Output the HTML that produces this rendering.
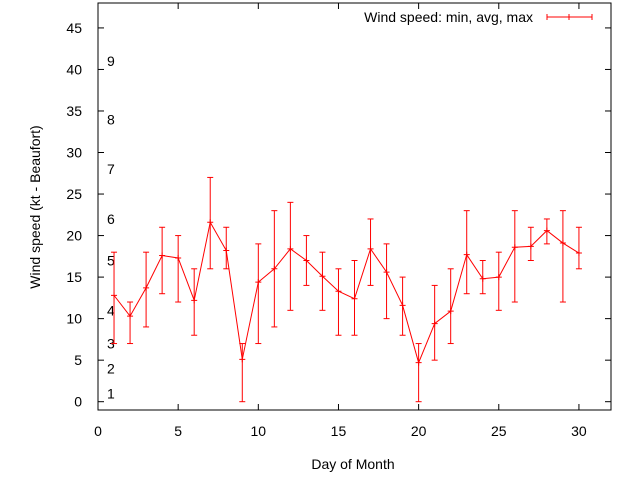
<!DOCTYPE html>
<html><head><meta charset="utf-8"><style>
body{margin:0;background:#fff}
svg text{font-family:"Liberation Sans",sans-serif;font-size:14px;fill:#000}
</style></head><body>
<svg id="c" width="640" height="480"></svg>
<script>
const days=[1,2,3,4,5,6,7,8,9,10,11,12,13,14,15,16,17,18,19,20,21,22,23,24,25,26,27,28,29,30];
const avgSpeed=[12.8,10.3,13.7,17.6,17.3,12.2,21.6,18.2,5.1,14.4,16,18.4,17,15.1,13.3,12.4,18.4,15.6,11.6,4.7,9.4,10.9,17.7,14.8,15,18.6,18.7,20.6,19.1,17.9];
const minSpeed=[7,7,9,13,12,8,16,16,0,7,9,11,14,11,8,8,14,10,8,0,5,7,13,13,11,12,17,19,12,16];
const maxSpeed=[18,12,18,21,20,16,27,21,7,19,23,24,20,18,16,17,22,19,15,7,14,16,23,17,18,23,21,22,23,21];
const xTicks=[0,5,10,15,20,25,30];
const yTicks=[0,5,10,15,20,25,30,35,40,45];
const beaufortKt=[1,4,7,11,17,22,28,34,41];
const beaufortLabels=["1","2","3","4","5","6","7","8","9"];

const L=98,R=611,T=3,B=410,xMin=0,xMax=32,yMin=-1,yMax=48;
const X=v=>L+(v-xMin)/(xMax-xMin)*(R-L);
const Y=v=>B-(v-yMin)/(yMax-yMin)*(B-T);
const svg=document.getElementById('c');
const NS='http://www.w3.org/2000/svg';
function mk(tag,attrs,parent){const e=document.createElementNS(NS,tag);for(const k in attrs)e.setAttribute(k,attrs[k]);(parent||svg).appendChild(e);return e;}

const frame=mk('rect',{x:L,y:T,width:R-L,height:B-T,fill:'none',stroke:'#000','stroke-width':1});



xTicks.forEach(v=>{
  const x=X(v);
  const t1=mk('line',{x1:x,y1:B,x2:x,y2:B-6,stroke:'#000'});
  
  
  const t2=mk('line',{x1:x,y1:T,x2:x,y2:T+6,stroke:'#000'});
  
  
  const lb=mk('text',{x:x,y:B+26,'text-anchor':'middle'});lb.textContent=v;
  
  
});
yTicks.forEach(v=>{
  const y=Y(v);
  const t1=mk('line',{x1:L,y1:y,x2:L+6,y2:y,stroke:'#000'});
  
  
  const t2=mk('line',{x1:R,y1:y,x2:R-6,y2:y,stroke:'#000'});
  
  
  const lb=mk('text',{x:L-16,y:y+5,'text-anchor':'end'});lb.textContent=v;
  
  
});
beaufortKt.forEach((v,i)=>{
  const lb=mk('text',{x:107,y:Y(v)+5});lb.textContent=beaufortLabels[i];
  
  
});

const xl=mk('text',{x:353,y:469,'text-anchor':'middle'});xl.textContent='Day of Month';


const yl=mk('text',{x:0,y:0,'text-anchor':'middle',transform:'translate(40,207) rotate(-90)'});yl.textContent='Wind speed (kt - Beaufort)';



const red='#f00';
days.forEach((d,i)=>{
  const x=X(d),y1=Y(minSpeed[i]),y2=Y(maxSpeed[i]);
  const g=mk('g',{stroke:red,'stroke-width':1});
  
  
  mk('line',{x1:x,y1:y1,x2:x,y2:y2},g);
  mk('line',{x1:x-3,y1:y1,x2:x+3,y2:y1},g);
  mk('line',{x1:x-3,y1:y2,x2:x+3,y2:y2},g);
});
const pl=mk('polyline',{points:days.map((d,i)=>X(d)+','+Y(avgSpeed[i])).join(' '),fill:'none',stroke:red,'stroke-width':1});


days.forEach((d,i)=>{
  const x=X(d),y=Y(avgSpeed[i]);
  const m=mk('path',{d:`M${x-3},${y}H${x+3}M${x},${y-3}V${y+3}`,stroke:red,'stroke-width':1});
  
  
});

const lg=mk('g',{});


const lt=mk('text',{x:533,y:22,'text-anchor':'end'},lg);lt.textContent='Wind speed: min, avg, max';
mk('path',{d:'M547,17H592M547,14V20M592,14V20M569,14V20',stroke:red,'stroke-width':1,fill:'none'},lg);
</script>
</body></html>
